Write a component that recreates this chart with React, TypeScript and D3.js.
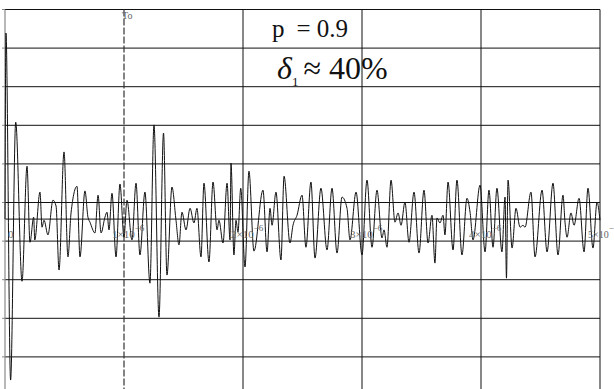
import React from "react";
import * as d3 from "d3";

// time axis, microseconds
const timeUs = [
  0, 0.008, 0.047, 0.09, 0.143, 0.185, 0.21, 0.241, 0.25, 0.294, 0.311, 0.328, 0.361, 0.403, 0.429, 0.454,
  0.496, 0.529, 0.555, 0.605, 0.63, 0.672, 0.697, 0.714, 0.756, 0.782, 0.807, 0.84, 0.857, 0.874, 0.899,
  0.933, 0.966, 1.0, 1.025, 1.067, 1.101, 1.134, 1.176, 1.218, 1.252, 1.294, 1.332, 1.361, 1.403, 1.437,
  1.462, 1.487, 1.521, 1.555, 1.588, 1.613, 1.647, 1.672, 1.714, 1.748, 1.782, 1.798, 1.832, 1.866, 1.891,
  1.899, 1.924, 1.941, 1.958, 1.981, 2.017, 2.05, 2.092, 2.168, 2.202, 2.227, 2.244, 2.277, 2.319, 2.345,
  2.395, 2.42, 2.454, 2.496, 2.529, 2.571, 2.605, 2.655, 2.706, 2.748, 2.79, 2.832, 2.874, 2.899, 2.95,
  3.0, 3.042, 3.084, 3.126, 3.168, 3.185, 3.21, 3.244, 3.277, 3.303, 3.328, 3.361, 3.395, 3.437, 3.479,
  3.521, 3.555, 3.588, 3.613, 3.63, 3.655, 3.681, 3.697, 3.723, 3.765, 3.798, 3.84, 3.882, 3.908, 3.933,
  3.992, 4.034, 4.067, 4.101, 4.134, 4.176, 4.202, 4.214, 4.227, 4.261, 4.294, 4.328, 4.353, 4.37, 4.42,
  4.454, 4.513, 4.555, 4.605, 4.647, 4.689, 4.706, 4.723, 4.756, 4.782, 4.824, 4.866, 4.899, 4.941, 4.975,
  5.0,
];

// signal amplitude (one grid division = 1)
const amplitude = [
  0, 4.82, -4.17, 2.51, -1.61, 1.37, -0.6, 0.05, -0.54, 0.7, -0.21, -0.03, -0.41, 0.49, 0.34, -1.32,
  1.74, -0.98, 0.16, 0.85, -0.98, 0.73, 0.05, -0.08, -0.36, 0.62, -0.36, 0.05, 0.18, -0.28, 0.67,
  -0.98, 0.91, -0.47, 0.49, -0.54, 0.93, -0.93, 0.7, -1.66, 2.44, -2.54, 2.23, -1.45, 0.83, -0.03,
  -0.67, 0.18, -0.28, 0.28, -0.1, 0.28, -0.98, 0.93, -1.11, 0.96, -0.28, -0.03, -0.62, 0.93, -0.54,
  1.45, -0.93, -0.03, -0.34, 0.8, -1.24, 1.24, -0.83, 0.75, -0.85, 0.28, -0.16, 0.7, -1.06, 1.11,
  -0.62, -0.16, 0.1, 0.62, -0.73, 0.96, -1.01, 0.8, -0.8, 0.8, -0.88, 0.57, 0.28, -0.54, 0.7,
  -0.93, 1.01, -0.73, 0.75, -0.49, -0.28, -0.73, 1.01, -0.08, 0.16, -0.16, 0.44, -0.6, 0.7, -0.88,
  0.75, -0.62, 0.1, -1.14, 0.03, -0.1, 0.1, -0.41, 0.96, -0.8, 1.01, -0.93, 0.54, 0.18, -0.54,
  0.88, -0.85, 0.75, -0.73, 0.8, -0.85, 0.57, -1.53, 1.01, -0.75, 0.28, -0.21, -0.16, -0.21, 0.7,
  -0.98, 0.75, -0.85, 0.93, -0.93, 0.62, -0.08, -0.47, 0.16, -0.16, 0.54, -0.85, 0.8, -0.75, 0.44,
  -0.03,
];

const xTicks = [0, 1, 2, 3, 4, 5];
const xTickLabels = ["0", "1×10", "2×10", "3×10", "4×10", "5×10"];
const xTickExps = ["", "−6", "−6", "−6", "−6", "−"];
const markerT = 1; // "To"
const yTop = 5.43;
const yBottom = -4.57;
const yDivisions = 10;

const W = 614;
const H = 389;
const serif = "'Liberation Serif', 'Times New Roman', serif";

export default function App() {
  const x = d3.scaleLinear().domain([0, 5]).range([5, 600]);
  const y = d3.scaleLinear().domain([yBottom, yTop]).range([395.5, 9.5]);

  const points = timeUs.map((t, i) => [t, amplitude[i]] as [number, number]);
  const line = d3
    .line<[number, number]>()
    .x((d) => x(d[0]))
    .y((d) => y(d[1]))
    .curve(d3.curveMonotoneX);

  const gridVals = d3.range(yDivisions + 1).map((k) => yTop - k * ((yTop - yBottom) / yDivisions));

  return (
    <svg
      width={W}
      height={H}
      style={{ position: "absolute", left: 0, top: 0, background: "#fff", fontFamily: serif }}
    >
      <rect width={W} height={H} fill="#fff" />
      {/* horizontal grid */}
      {gridVals.map((v, i) => (
        <line key={"h" + i} x1={x(0)} x2={x(5)} y1={y(v)} y2={y(v)} stroke="#111" strokeWidth={1} />
      ))}
      {gridVals.map((v, i) => (
        <line key={"lt" + i} x1={x(0) - 3} x2={x(0)} y1={y(v)} y2={y(v)} stroke="#888" strokeWidth={1} />
      ))}
      <line x1={x(0)} x2={x(5)} y1={y(0)} y2={y(0)} stroke="#111" strokeWidth={1} />
      {/* vertical grid */}
      {xTicks
        .filter((t) => t > 0 && t !== markerT)
        .map((t) => (
          <line key={"v" + t} x1={x(t)} x2={x(t)} y1={y(yTop)} y2={H} stroke="#111" strokeWidth={1} />
        ))}
      <line x1={x(0)} x2={x(0)} y1={y(yTop)} y2={H} stroke="#888" strokeWidth={1.2} />
      <line
        x1={x(markerT)}
        x2={x(markerT)}
        y1={y(yTop)}
        y2={H}
        stroke="#333"
        strokeWidth={1.2}
        strokeDasharray="7,2"
      />
      <text x={x(markerT) - 2} y={19} fontSize={10} fill="#666" style={{ fontFamily: serif }}>
        To
      </text>

      {/* signal */}
      <path d={line(points) ?? ""} fill="none" stroke="#111" strokeWidth={1} />

      {/* x tick labels */}
      {xTicks.map((t, i) => (
        <text
          key={"xl" + t}
          x={t === 0 ? x(t) + 3 : x(t) - 12}
          y={238}
          fontSize={t === 5 ? 10 : 11}
          fill="#666"
          style={{ fontFamily: serif }}
        >
          {xTickLabels[i]}
          {xTickExps[i] && (
            <tspan dy={-7} fontSize={9}>
              {xTickExps[i]}
            </tspan>
          )}
        </text>
      ))}

      {/* annotations */}
      <text x={272} y={37} fontSize={25} fill="#111" style={{ fontFamily: serif }}>
        <tspan>p</tspan>
        <tspan dx={12}>= 0.9</tspan>
      </text>
      <text x={277} y={79} fontSize={32} fill="#111" style={{ fontFamily: serif }}>
        <tspan fontStyle="italic">δ</tspan>
        <tspan fontSize={13} dy={7}>
          1
        </tspan>
        <tspan dy={-7} dx={5}>
          ≈ 40%
        </tspan>
      </text>
    </svg>
  );
}
